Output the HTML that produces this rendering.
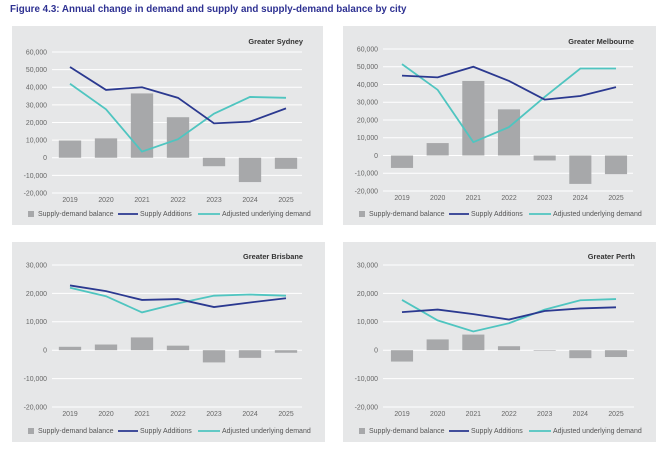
<!DOCTYPE html>
<html><head><meta charset="utf-8"><style>
body{margin:0;background:#fff;width:663px;height:448px;overflow:hidden;font-family:"Liberation Sans",sans-serif}
svg text{font-family:"Liberation Sans",sans-serif}
</style></head><body>
<svg id="s" width="663" height="448" viewBox="0 0 663 448" xmlns="http://www.w3.org/2000/svg">
<text x="10" y="12" font-size="9.8" font-weight="bold" fill="#2e3192">Figure 4.3: Annual change in demand and supply and supply-demand balance by city</text>
</svg>
<script>
const years = ["2019","2020","2021","2022","2023","2024","2025"];
const sydBalance = [9800, 11000, 36500, 23000, -4800, -13800, -6300];
const sydSupply = [51500, 38500, 40000, 34000, 19500, 20500, 28000];
const sydDemand = [42000, 27500, 3500, 10500, 25000, 34500, 34000];
const melBalance = [-7000, 7000, 42000, 26000, -2800, -16000, -10500];
const melSupply = [45000, 44000, 50000, 42000, 31500, 33500, 38500];
const melDemand = [51500, 37000, 7500, 16000, 33000, 49000, 49000];
const briBalance = [1200, 2000, 4500, 1600, -4300, -2700, -900];
const briSupply = [22800, 20800, 17700, 18000, 15200, 16800, 18300];
const briDemand = [22000, 19000, 13300, 16500, 19200, 19600, 19200];
const perBalance = [-4000, 3800, 5500, 1400, -200, -2800, -2400];
const perSupply = [13400, 14300, 12700, 10800, 13800, 14700, 15100];
const perDemand = [17700, 10500, 6600, 9500, 14300, 17600, 18000];
const ticksA = [60000,50000,40000,30000,20000,10000,0,-10000,-20000];
const ticksB = [30000,20000,10000,0,-10000,-20000];

const NS="http://www.w3.org/2000/svg";
const svg=document.getElementById('s');
function mk(tag,attrs,parent){const e=document.createElementNS(NS,tag);for(const k in attrs)e.setAttribute(k,attrs[k]);(parent||svg).appendChild(e);return e;}
function fmt(v){return v===0?"0":(v<0?"-":"")+Math.abs(v).toLocaleString('en-US');}

function panel(o){
  const g=mk('g',{});
  
  
  const bg=mk('rect',{x:o.px,y:o.py,width:o.pw,height:o.ph,fill:'#e6e7e8'},g);
  
  
  const t=mk('text',{x:o.gx1+1,y:o.titleY,'text-anchor':'end','font-size':7.4,'font-weight':'bold',fill:'#333'},g);
  t.textContent=o.title;
  
  
  const tmax=o.ticks[0], tmin=o.ticks[o.ticks.length-1];
  const y=v=>o.yTop+(tmax-v)/(tmax-tmin)*(o.yBot-o.yTop);
  const step=(o.x6-o.x0)/6;
  const x=i=>o.x0+i*step;
  o.ticks.forEach(tv=>{
    const l=mk('line',{x1:o.gx0,x2:o.gx1,y1:y(tv),y2:y(tv),stroke:'#fff','stroke-width':1},g);
    
    
    const tx=mk('text',{x:o.gx0-5,y:y(tv)+2.4,'text-anchor':'end','font-size':6.9,fill:'#666'},g);
    tx.textContent=fmt(tv);
    
    
  });
  const bw=step*0.62;
  o.bal.forEach((v,i)=>{
    const y0=y(0), yv=y(v);
    const r=mk('rect',{x:x(i)-bw/2,y:Math.min(y0,yv),width:bw,height:Math.max(0.5,Math.abs(yv-y0)),fill:'#a7a8aa'},g);
    
    
  });
  [[o.dem,'#4fc5c0','demand-line'],[o.sup,'#2b3990','supply-line']].forEach(([arr,c,n])=>{
    const p=mk('polyline',{points:arr.map((v,i)=>x(i)+','+y(v)).join(' '),fill:'none',stroke:c,'stroke-width':1.8},g);
    
    
  });
  years.forEach((yr,i)=>{
    const tx=mk('text',{x:x(i),y:o.yBot+9,'text-anchor':'middle','font-size':6.9,fill:'#666'},g);
    tx.textContent=yr;
    
    
  });
  const ly=o.legY, lx=o.px+16;
  const lg=mk('g',{},g);
  
  
  mk('rect',{x:lx,y:ly-5,width:6,height:6,fill:'#a7a8aa'},lg);
  let t1=mk('text',{x:lx+10,y:ly,'font-size':7,fill:'#555'},lg);t1.textContent='Supply-demand balance';
  mk('line',{x1:lx+90,x2:lx+110,y1:ly-2,y2:ly-2,stroke:'#2b3990','stroke-width':1.8},lg);
  let t2=mk('text',{x:lx+112,y:ly,'font-size':7,fill:'#555'},lg);t2.textContent='Supply Additions';
  mk('line',{x1:lx+170,x2:lx+192,y1:ly-2,y2:ly-2,stroke:'#4fc5c0','stroke-width':1.8},lg);
  let t3=mk('text',{x:lx+194,y:ly,'font-size':7,fill:'#555'},lg);t3.textContent='Adjusted underlying demand';
}
panel({key:'sydney',title:'Greater Sydney',px:12,py:26,pw:311,ph:199,gx0:52,gx1:302,titleY:44,yTop:52,yBot:193,x0:70,x6:286,ticks:ticksA,bal:sydBalance,sup:sydSupply,dem:sydDemand,legY:216});
panel({key:'melbourne',title:'Greater Melbourne',px:343,py:26,pw:313,ph:199,gx0:383,gx1:633,titleY:44,yTop:49,yBot:191,x0:402,x6:616,ticks:ticksA,bal:melBalance,sup:melSupply,dem:melDemand,legY:216});
panel({key:'brisbane',title:'Greater Brisbane',px:12,py:242,pw:313,ph:200,gx0:52,gx1:302,titleY:259,yTop:265,yBot:407,x0:70,x6:286,ticks:ticksB,bal:briBalance,sup:briSupply,dem:briDemand,legY:433});
panel({key:'perth',title:'Greater Perth',px:343,py:242,pw:313,ph:200,gx0:383,gx1:634,titleY:259,yTop:265,yBot:407,x0:402,x6:616,ticks:ticksB,bal:perBalance,sup:perSupply,dem:perDemand,legY:433});
</script>
</body></html>
